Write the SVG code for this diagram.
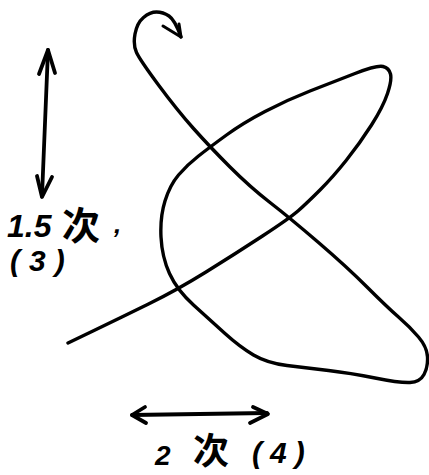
<svg xmlns="http://www.w3.org/2000/svg" width="429" height="475" viewBox="0 0 429 475">
<style>
.ink{fill:none;stroke:#000;stroke-linecap:round;stroke-linejoin:round}
.t{font-family:"Liberation Sans","Noto Sans CJK SC",sans-serif;font-style:italic;font-weight:bold;fill:#000}
.c{font-family:"Noto Sans CJK SC",sans-serif;font-weight:bold;fill:#000}
</style>
<rect width="429" height="475" fill="#fff"/>
<g id="connectors">
<path id="curve" class="ink" stroke-width="3.4" d="M68,343 L94,330.5 Q120,318 148.5,304 Q177,290 206,272 Q235,254 262.5,236 Q290,218 298.5,210.5 Q307,203 320,190 Q333,177 346.5,160 Q360,143 371.5,125 Q383,107 387.5,93.5 Q392,80 390.5,74 Q389,68 383,66.5 Q377,65 355,73.5 Q333,82 310,91 Q287,100 265,111.5 Q243,123 226.5,135 Q210,147 198.5,156 Q187,165 178.5,175 Q170,185 165,201 Q160,217 161,237 Q162,257 169.5,273.5 Q177,290 193.5,305 Q210,320 225,333.5 Q240,347 253.5,355 Q267,363 287,365.5 Q307,368 328.5,370.5 Q350,373 375,378 Q400,383 410,382.5 Q420,382 424,374.5 Q428,367 427.5,357 Q427,347 418.5,337 Q410,327 398.5,317 Q387,307 367,287 Q347,267 318.5,242.5 Q290,218 270,202.5 Q250,187 230,167 Q210,147 193.5,128.5 Q177,110 158.5,85 Q140,60 136.5,52.5 Q133,45 135,34 Q137,23 143.5,17.5 Q150,12 156.5,12 Q163,12 169,16 Q175,20 181,37"/>
<path id="curve-head" class="ink" stroke-width="3" d="M163,26 L181,37 L179,24"/>
<g id="vertical-arrow">
<path class="ink" stroke-width="3.8" d="M48,50 L42,196"/>
<path class="ink" stroke-width="3.8" d="M39,74 L48,50 L55,73"/>
<path class="ink" stroke-width="3.8" d="M37,176 L42,197 L52,177"/>
</g>
<g id="horizontal-arrow">
<path class="ink" stroke-width="3.8" d="M132,415 L267,413"/>
<path class="ink" stroke-width="3.8" d="M145,407 L132,415 L146,423"/>
<path class="ink" stroke-width="3.8" d="M253,407 L268,414 L250,423"/>
</g>
</g>
<g id="label-vertical">
<text class="t" x="7" y="237" font-size="32">1.5</text>
<text class="c" x="62" y="239" font-size="38">次</text>
<text class="t" x="114" y="233" font-size="26">,</text>
<text class="t" x="10" y="271" font-size="30" letter-spacing="9">(3)</text>
</g>
<g id="label-horizontal">
<text class="t" x="155" y="465" font-size="28">2</text>
<text class="c" x="193" y="464" font-size="36">次</text>
<text class="t" x="252" y="463" font-size="30" letter-spacing="8">(4)</text>
</g>
</svg>
